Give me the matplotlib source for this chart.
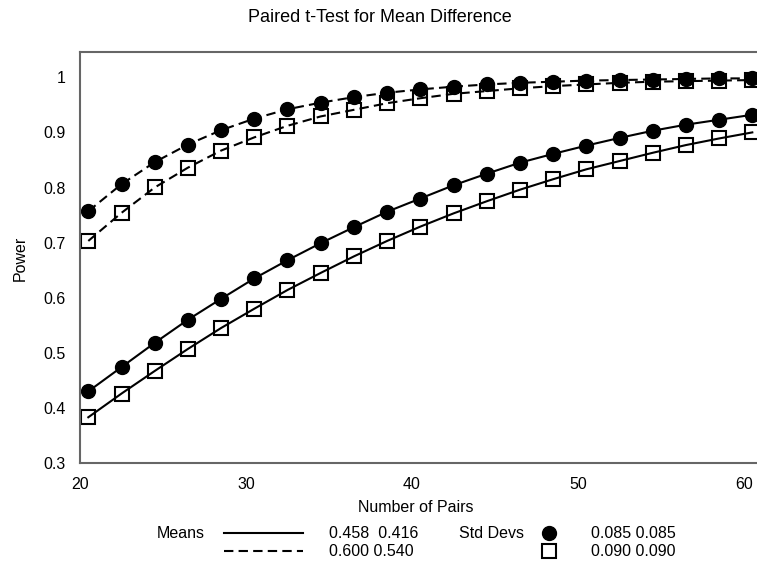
import numpy as np
import matplotlib
matplotlib.use('Agg')
from matplotlib import pyplot as plt
from matplotlib.lines import Line2D

plt.rcParams['font.family'] = ['Liberation Sans', 'DejaVu Sans']

pairs = np.arange(20.5, 61, 2.0)

# means 0.458 / 0.416
solid_sd085 = [0.430, 0.474, 0.518, 0.560, 0.598, 0.635, 0.668, 0.699, 0.728, 0.756,
               0.780, 0.804, 0.825, 0.845, 0.861, 0.876, 0.890, 0.903, 0.914, 0.923, 0.932]
solid_sd090 = [0.383, 0.426, 0.467, 0.507, 0.545, 0.580, 0.614, 0.645, 0.675, 0.703,
               0.729, 0.753, 0.775, 0.796, 0.815, 0.833, 0.848, 0.863, 0.877, 0.889, 0.900]
# means 0.600 / 0.540
dash_sd085 = [0.757, 0.806, 0.846, 0.878, 0.904, 0.925, 0.942, 0.954, 0.964, 0.972,
              0.978, 0.983, 0.987, 0.990, 0.992, 0.994, 0.995, 0.996, 0.997, 0.998, 0.998]
dash_sd090 = [0.703, 0.754, 0.800, 0.836, 0.867, 0.891, 0.912, 0.929, 0.941, 0.953,
              0.962, 0.970, 0.975, 0.980, 0.984, 0.987, 0.990, 0.992, 0.993, 0.994, 0.995]

W, H = 757, 561
fig = plt.figure(figsize=(W/100, H/100), dpi=100)
ax = fig.add_axes([80/W, 1-463/H, (W-80)/W, (463-52)/H])

ms = 10
dash = (0, (4.5, 2.5))
ax.plot(pairs, solid_sd085, color='k', lw=1.5, marker='o', ms=ms, mfc='k', mec='k', clip_on=False)
ax.plot(pairs, solid_sd090, color='k', lw=1.5, marker='s', ms=ms, mfc='none', mec='k', mew=1.5, clip_on=False)
ax.plot(pairs, dash_sd085, color='k', lw=1.5, ls=dash, marker='o', ms=ms, mfc='k', mec='k', clip_on=False)
ax.plot(pairs, dash_sd090, color='k', lw=1.5, ls=dash, marker='s', ms=ms, mfc='none', mec='k', mew=1.5, clip_on=False)

ax.set_xlim(20, 20 + (W-80)/16.6)
ax.set_ylim(0.3, 0.3 + (463-52)/551.0)
ax.set_xticks([20, 30, 40, 50, 60])
ax.set_yticks([0.3, 0.4, 0.5, 0.6, 0.7, 0.8, 0.9, 1.0])
ax.set_yticklabels(['0.3', '0.4', '0.5', '0.6', '0.7', '0.8', '0.9', '1'])
ax.tick_params(length=0, labelsize=11.5, pad=10)
for s in ['left', 'top', 'bottom']:
    ax.spines[s].set_color('#666666')
    ax.spines[s].set_linewidth(1.5)
ax.spines['right'].set_visible(False)

fig.text(380/W, 1-18/H, 'Paired t-Test for Mean Difference', ha='center', va='center', fontsize=13)
fig.text(20/W, 1-258/H, 'Power', ha='center', va='center', rotation=90, fontsize=11.5)
fig.text(416/W, 1-508/H, 'Number of Pairs', ha='center', va='center', fontsize=11.5)

# legend
y1, y2 = 1-533/H, 1-551/H
fig.text(205/W, y1, 'Means', ha='right', va='center', fontsize=11.5)
fig.add_artist(Line2D([224/W, 303/W], [y1, y1], color='k', lw=1.5))
fig.add_artist(Line2D([224/W, 303/W], [y2, y2], color='k', lw=1.5, ls=dash))
fig.text(329/W, y1, '0.458  0.416', ha='left', va='center', fontsize=11.5)
fig.text(329/W, y2, '0.600 0.540', ha='left', va='center', fontsize=11.5)
fig.text(524/W, y1, 'Std Devs', ha='right', va='center', fontsize=11.5)
fig.add_artist(Line2D([549/W], [y1], ls='none', marker='o', ms=ms, mfc='k', mec='k'))
fig.add_artist(Line2D([549/W], [y2], ls='none', marker='s', ms=ms, mfc='none', mec='k', mew=1.5))
fig.text(591/W, y1, '0.085 0.085', ha='left', va='center', fontsize=11.5)
fig.text(591/W, y2, '0.090 0.090', ha='left', va='center', fontsize=11.5)

fig.savefig('out.png', dpi=100)
